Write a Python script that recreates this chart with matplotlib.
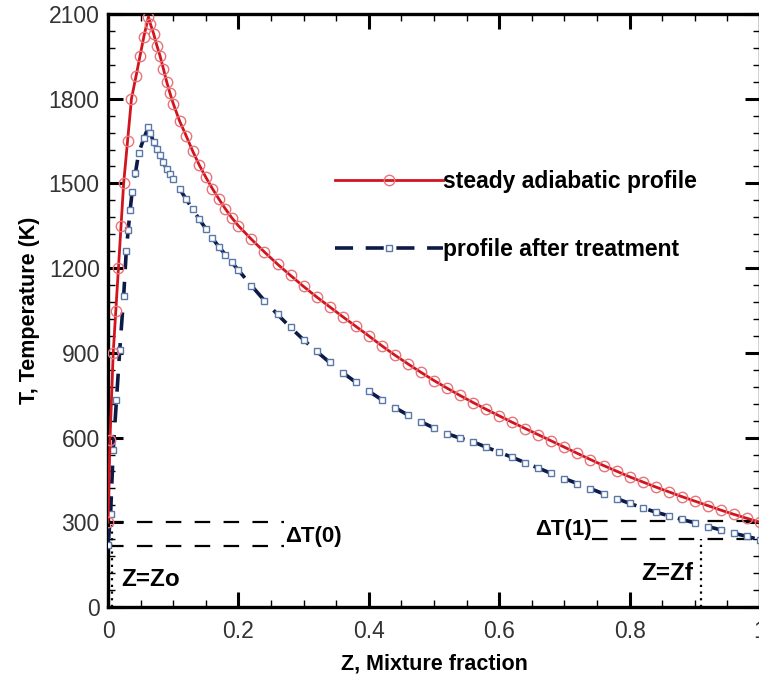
import matplotlib
matplotlib.use("Agg")
import matplotlib.pyplot as plt
from matplotlib.ticker import MultipleLocator

# ---------------- data ----------------
z_red = [0.0, 0.003, 0.008, 0.012, 0.016, 0.020, 0.024, 0.030, 0.036, 0.043, 0.049, 0.055,
         0.062, 0.065, 0.07, 0.075, 0.08, 0.085, 0.09, 0.095, 0.10, 0.11, 0.12, 0.13, 0.14,
         0.15, 0.16, 0.17, 0.18, 0.19, 0.20, 0.22, 0.24, 0.26, 0.28,
         0.30, 0.32, 0.34, 0.36, 0.38, 0.40, 0.42, 0.44, 0.46, 0.48, 0.50, 0.52, 0.54, 0.56,
         0.58, 0.60, 0.62, 0.64, 0.66, 0.68, 0.70, 0.72, 0.74, 0.76, 0.78, 0.80, 0.82, 0.84,
         0.86, 0.88, 0.90, 0.92, 0.94, 0.96, 0.98, 1.00]
t_red = [300, 590, 900, 1050, 1200, 1350, 1500, 1650, 1800, 1880, 1950, 2020,
         2090, 2065, 2030, 1988, 1950, 1906, 1860, 1820, 1783, 1720, 1668, 1614, 1565,
         1522, 1482, 1445, 1410, 1378, 1350, 1302, 1257, 1214, 1174,
         1135, 1098, 1063, 1028, 994, 960, 925, 892, 861, 831, 802, 775, 749, 724,
         700, 677, 654, 632, 610, 588, 566, 544, 522, 501, 481, 461, 443, 425,
         408, 391, 375, 359, 343, 328, 314, 300]

z_blue = [0.0, 0.004, 0.008, 0.013, 0.018, 0.024, 0.028, 0.031, 0.034, 0.037, 0.042, 0.047,
          0.055, 0.062, 0.065, 0.07, 0.075, 0.08, 0.085, 0.09, 0.095, 0.10, 0.11, 0.12,
          0.13, 0.14, 0.15, 0.16, 0.17, 0.18, 0.19, 0.20, 0.22, 0.24,
          0.26, 0.28, 0.30, 0.32, 0.34, 0.36, 0.38, 0.40, 0.42, 0.44, 0.46, 0.48, 0.50,
          0.52, 0.54, 0.56, 0.58, 0.60, 0.62, 0.64, 0.66, 0.68, 0.70, 0.72, 0.74, 0.76,
          0.78, 0.80, 0.82, 0.84, 0.86, 0.88, 0.90, 0.92, 0.94, 0.96, 0.98, 1.00]
t_blue = [220, 330, 556, 733, 910, 1100, 1260, 1335, 1406, 1470, 1536, 1607,
          1660, 1700, 1680, 1645, 1622, 1600, 1575, 1550, 1532, 1515, 1480, 1444,
          1408, 1373, 1340, 1306, 1276, 1248, 1220, 1193, 1138, 1085,
          1036, 990, 946, 905, 866, 830, 796, 764, 734, 706, 680, 656, 634,
          614, 598, 585, 566, 548, 530, 511, 492, 473, 455, 437, 419, 401,
          384, 367, 351, 336, 323, 310, 298, 285, 273, 261, 250, 238]

labels = ["steady adiabatic profile", "profile after treatment"]
x_ticks = [0, 0.2, 0.4, 0.6, 0.8, 1.0]
x_ticklabels = ["0", "0.2", "0.4", "0.6", "0.8", "1"]
y_ticks = [0, 300, 600, 900, 1200, 1500, 1800, 2100]

# annotation levels (temperature jumps at the boundaries)
dT0_levels = [300, 215]
dT0_extent = [0.0, 0.27]
dT1_levels = [304, 240]
dT1_extent = [0.742, 1.0]
z_o = 0.006
z_f = 0.909

# ---------------- figure ----------------
fig = plt.figure(figsize=(7.59, 6.84), dpi=100)
ax = fig.add_axes([108 / 759, 1 - 607 / 684, 652 / 759, 593 / 684])

FONT = ["Liberation Sans", "DejaVu Sans"]

ax.plot(z_red, t_red, color="#d2141e", lw=2.0, marker="o", ms=7.5,
        mfc="none", mec="#e8747a", mew=1.0, label=labels[0], zorder=4)
ax.plot(z_blue, t_blue, color="#0d1a45", lw=2.6, dashes=(5, 3.5), marker="s", ms=5,
        mfc="white", mec="#5a78a8", mew=1.0, label=labels[1], zorder=3)

# dashed / dotted helper lines
for lev in dT0_levels:
    ax.plot(dT0_extent, [lev, lev], color="black", lw=1.6, dashes=(7, 6), zorder=2)
for lev in dT1_levels:
    ax.plot(dT1_extent, [lev, lev], color="black", lw=1.6, dashes=(7, 6), zorder=2)
ax.plot([z_o, z_o], [0, dT0_levels[0]], color="black", lw=1.6, ls=(0, (1, 2)), zorder=2)
ax.plot([z_f, z_f], [0, dT1_levels[1]], color="black", lw=1.6, ls=(0, (1, 2)), zorder=2)

ax.text(0.271, 250, "ΔT(0)", fontsize=16, fontweight="bold", family=FONT,
        ha="left", va="center")
ax.text(0.742, 274, "ΔT(1)", fontsize=16, fontweight="bold", family=FONT,
        ha="right", va="center")
ax.text(0.020, 96, "Z=Zo", fontsize=17.5, fontweight="bold", family=FONT,
        ha="left", va="center")
ax.text(0.897, 118, "Z=Zf", fontsize=17.5, fontweight="bold", family=FONT,
        ha="right", va="center")

ax.set_xlim(0, 1.0)
ax.set_ylim(0, 2100)
ax.set_xticks(x_ticks)
ax.set_xticklabels(x_ticklabels)
ax.set_yticks(y_ticks)
ax.xaxis.set_minor_locator(MultipleLocator(0.05))
ax.yaxis.set_minor_locator(MultipleLocator(60))
ax.tick_params(which="major", direction="in", length=11, width=2.2,
               top=True, right=True, labelsize=16.5, labelcolor="#333333")
ax.tick_params(axis="x", which="major", pad=9)
ax.tick_params(axis="y", which="major", pad=6)
ax.tick_params(which="minor", direction="in", length=5, width=1.0,
               top=True, right=True)
for lab in ax.get_xticklabels() + ax.get_yticklabels():
    lab.set_family(FONT)
for sp in ax.spines.values():
    sp.set_linewidth(2.4)

ax.set_xlabel("Z, Mixture fraction", fontsize=15.5, fontweight="bold", family=FONT,
              labelpad=8)
ax.set_ylabel("T, Temperature (K)", fontsize=15.5, fontweight="bold", family=FONT,
              labelpad=6)

leg = ax.legend(loc="upper left", bbox_to_anchor=(227 / 652, 1 - (170 - 14) / 593),
                frameon=False, handlelength=4.7, handletextpad=0.0, labelspacing=1.95,
                borderpad=0, borderaxespad=0, numpoints=1,
                prop={"family": FONT, "weight": "bold", "size": 16.5})

fig.savefig("out.png", dpi=100)
